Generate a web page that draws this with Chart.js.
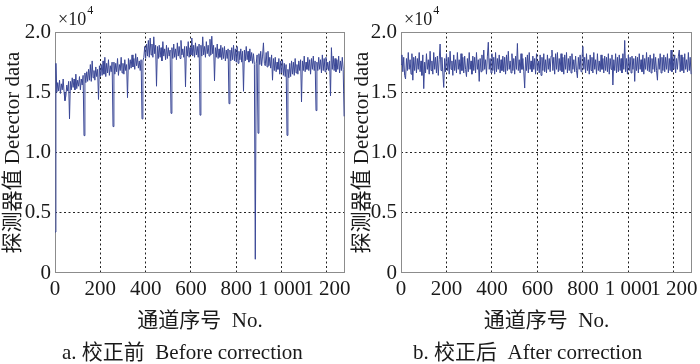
<!DOCTYPE html>
<html>
<head>
<meta charset="utf-8">
<script src="https://cdn.jsdelivr.net/npm/chart.js@4/dist/chart.umd.min.js"></script>
<style>
  body { margin: 0; width: 700px; height: 364px; background: #fff; position: relative; overflow: hidden; }
  .panel { position: absolute; top: 0; width: 350px; height: 364px; }
  .caption { position: absolute; top: 339px; font: 21px "Liberation Serif", "Noto Sans CJK SC", serif; color: #1a1a1a; white-space: pre; line-height: 26px; }
</style>
</head>
<body>
<div class="panel" style="left:0"><canvas id="chart-before" width="350" height="364"></canvas></div>
<div class="panel" style="left:350px"><canvas id="chart-after" width="350" height="364"></canvas></div>
<div class="caption" style="left:62px">a. 校正前  Before correction</div>
<div class="caption" style="left:413px">b. 校正后  After correction</div>
<script>
// =========================
// DATA (one value every 4 channels)
// =========================
const channelStep = 4;
const xTicks = [0, 200, 400, 600, 800, 1000, 1200];
const yTicks = [0, 5000, 10000, 15000, 20000];

const beforeCorrection = [
  3400, 17400, 15000, 15800, 15100, 16000, 14900, 15700, 15200, 16100, 15000, 14300, 14700, 15600, 15100, 15900,
  12790, 15900, 15200, 16200, 15400, 16100, 15200, 16500, 15300, 16000, 15500, 16300, 15200, 16100, 15600, 16400,
  11400, 16600, 15800, 16700, 15900, 16900, 16000, 17300, 15900, 17600, 16200, 16800, 16000, 17100, 16300, 16900,
  14400, 17200, 16300, 17300, 16400, 17600, 16500, 17900, 16300, 17400, 16600, 17700, 16400, 17200, 16700, 17500,
  12150, 17500, 16500, 17400, 16700, 17800, 16400, 17300, 16800, 17900, 16600, 17400, 16500, 17700, 16800, 17300,
  14550, 17800, 16900, 17700, 17000, 18100, 17100, 17800, 16900, 18200, 17200, 17900, 17000, 17600, 16800, 17700,
  12790, 17600, 17900, 18800, 17800, 19000, 18000, 19300, 17900, 19500, 18100, 19000, 17900, 19600, 18200, 18900,
  15500, 18800, 17800, 18900, 17900, 18700, 17600, 19200, 18000, 18600, 17700, 18900, 17800, 18700, 18000, 18500,
  13250, 18700, 17800, 19000, 17900, 18600, 17700, 19100, 18000, 18800, 17800, 19300, 18100, 18600, 17900, 18800,
  15450, 18800, 18000, 19200, 17900, 18700, 18100, 19500, 18000, 18900, 17900, 19100, 18100, 18800, 17900, 19000,
  13100, 18900, 18000, 19600, 18100, 18800, 17900, 19200, 18200, 18900, 18000, 19400, 18100, 19650, 18200, 18900,
  15950, 18700, 17900, 19000, 17800, 18600, 17900, 18900, 17700, 18700, 17800, 18800, 17600, 18500, 17800, 18600,
  14050, 18500, 17600, 18700, 17700, 18900, 17600, 18600, 17500, 18800, 17400, 18400, 17700, 18600, 17500, 18400,
  15080, 18500, 17600, 18800, 17700, 18400, 17500, 18600, 17600, 18300, 17400, 18200, 17300, 1140, 17400, 18100,
  11600, 18200, 17300, 18400, 17200, 18000, 19100, 17400, 17200, 18300, 17100, 18400, 17200, 17900, 17000, 18100,
  16000, 17800, 16800, 17900, 16700, 17500, 16900, 17800, 16500, 17600, 16600, 17700, 16400, 17400, 16300, 17300,
  11420, 16900, 16200, 17400, 16300, 17600, 16500, 17500, 16400, 17800, 16600, 17300, 16500, 17600, 16800, 17700,
  14190, 17600, 16800, 18000, 16700, 17500, 16900, 17900, 16800, 17700, 16500, 17800, 16900, 18000, 16800, 17600,
  13480, 17500, 16800, 17900, 16900, 17700, 16600, 18100, 16800, 17800, 16700, 17900, 16900, 17500, 16800, 17600,
  14700, 18700, 16900, 18000, 16800, 17800, 16700, 17700, 16900, 18000, 16600, 17600, 16800, 17900, 16900, 13000,
];

const afterCorrection = [
  17300, 18100, 16700, 17900, 16400, 16100, 17800, 16800, 18300, 16900, 17700, 16500, 18200, 16000, 17900, 16800,
  18000, 16600, 17800, 16900, 18300, 16700, 17600, 16400, 18100, 15300, 17500, 16600, 18200, 16900, 17700, 16500,
  18400, 16800, 17600, 16500, 18300, 16900, 17900, 16600, 18000, 16400, 17700, 19000, 16800, 17900, 16600, 15400,
  17800, 16700, 18200, 16800, 17900, 16500, 18400, 16900, 17600, 16400, 18100, 16800, 17700, 16600, 18300, 16900,
  17700, 16500, 18200, 16800, 17900, 16600, 18000, 16900, 16300, 17800, 16700, 18300, 16900, 17600, 16500, 18000,
  16800, 17900, 16600, 18300, 16900, 17700, 15900, 17800, 16700, 18100, 16800, 18500, 16900, 17700, 16500, 18000,
  19150, 16900, 17800, 16600, 18200, 16800, 17900, 16500, 18300, 16700, 17800, 16900, 18100, 16600, 17700, 16800,
  18000, 16700, 17900, 16500, 18100, 16800, 18400, 16900, 17600, 16600, 18200, 16800, 17800, 16500, 18000, 16900,
  19050, 16800, 17700, 16600, 18200, 16900, 17800, 16700, 15350, 17900, 16800, 18100, 16600, 18300, 16900, 17600,
  16700, 18000, 16900, 17800, 16500, 18200, 16800, 17600, 16600, 18100, 16400, 17900, 16800, 18200, 16700, 17700,
  16600, 18100, 16900, 17800, 16700, 18000, 18500, 16800, 17900, 16500, 18200, 16900, 18300, 16700, 17800, 16800,
  18200, 16700, 17900, 16500, 18100, 16900, 18300, 16600, 17800, 16800, 18000, 16600, 18200, 16900, 17700, 16700,
  18000, 16800, 16200, 17900, 16900, 18100, 16700, 17800, 18800, 16900, 17900, 16600, 18200, 16800, 17700, 16500,
  18100, 16800, 17900, 16600, 18300, 16900, 17700, 16500, 18200, 16800, 17600, 16700, 18100, 16900, 17800, 16600,
  18000, 16800, 17900, 16700, 18200, 16500, 17800, 16900, 18100, 15600, 17700, 16800, 18200, 16600, 17900, 16700,
  18100, 16800, 17800, 16600, 18200, 16900, 19300, 16700, 17800, 16500, 18100, 16800, 17900, 16600, 18000, 16900,
  17800, 15900, 18000, 16800, 17900, 16600, 18200, 16900, 17700, 16700, 18100, 16500, 17800, 16900, 18300, 16800,
  17900, 16700, 18100, 16600, 17800, 16900, 18200, 16700, 17900, 16800, 16000, 17800, 16900, 18200, 16600, 17900,
  16800, 18100, 16700, 17900, 16900, 18200, 16600, 17800, 16800, 18500, 16700, 17900, 16900, 18100, 16600, 17800,
  16900, 18000, 18500, 16700, 18100, 16800, 17900, 16600, 18200, 16900, 17700, 16700, 18300, 16800, 17900, 16500,
];

// =========================
// STYLE
// =========================
const FONT = '"Liberation Serif", "Noto Sans CJK SC", serif';
const TEXT = "#1a1a1a";
const LINE = "#3a4796";

// frame around the plot + "x10^4" multiplier
const framePlugin = {
  id: "frame",
  beforeDatasetsDraw(chart) {
    const { ctx, chartArea: a } = chart;
    ctx.save();
    ctx.strokeStyle = "#8c8c8c";
    ctx.lineWidth = 1;
    ctx.strokeRect(a.left + 0.5, a.top + 0.5, a.right - a.left - 1, a.bottom - a.top - 1);
    ctx.restore();
  },
  afterDraw(chart) {
    const { ctx, chartArea: a } = chart;
    ctx.save();
    ctx.fillStyle = TEXT;
    ctx.textBaseline = "alphabetic";
    ctx.font = "18px " + FONT;
    ctx.fillText("\u00d710", a.left + 3, 25);
    const w = ctx.measureText("\u00d710").width;
    ctx.font = "12px " + FONT;
    ctx.fillText("4", a.left + 3 + w + 1, 14);
    ctx.restore();
  },
};

function toPoints(values) {
  return values.map((v, i) => ({ x: i * channelStep, y: v }));
}

function formatChannel(v) {
  return String(v).replace(/\B(?=(\d{3})+(?!\d))/g, " ");
}

function makeChart(canvasId, values, yWidth, padRight, titlePad) {
  const ctx = document.getElementById(canvasId).getContext("2d");
  return new Chart(ctx, {
    type: "line",
    data: {
      datasets: [
        {
          data: toPoints(values),
          borderColor: LINE,
          borderWidth: 1,
          pointRadius: 0,
          tension: 0,
        },
      ],
    },
    options: {
      responsive: false,
      animation: false,
      layout: { padding: { top: 32, right: padRight, bottom: 30, left: 0 } },
      plugins: { legend: { display: false }, tooltip: { enabled: false } },
      scales: {
        x: {
          type: "linear",
          min: 0,
          max: 1280,
          afterBuildTicks: (s) => { s.ticks = xTicks.map((v) => ({ value: v })); },
          afterFit: (s) => { s.height = 61; s.paddingLeft = 0; s.paddingRight = 0; },
          ticks: {
            autoSkip: false,
            maxRotation: 0,
            padding: 4,
            color: TEXT,
            font: { family: FONT, size: 21 },
            callback: (v) => formatChannel(v),
          },
          grid: {
            drawTicks: false,
            color: (c) => (c.tick && (c.tick.value === 0) ? "rgba(0,0,0,0)" : "#222"),
          },
          border: { display: false, dash: [2, 2.5] },
          title: {
            display: true,
            text: "通道序号  No.",
            color: TEXT,
            font: { family: FONT, size: 21 },
            padding: 0,
          },
        },
        y: {
          min: 0,
          max: 20000,
          afterBuildTicks: (s) => { s.ticks = yTicks.map((v) => ({ value: v })); },
          afterFit: (s) => { s.width = yWidth; },
          ticks: {
            padding: 4,
            color: TEXT,
            font: { family: FONT, size: 21 },
            callback: (v) => (v === 0 ? "0" : (v / 10000).toFixed(1)),
          },
          grid: {
            drawTicks: false,
            color: (c) => (c.tick && (c.tick.value === 0 || c.tick.value === 20000) ? "rgba(0,0,0,0)" : "#222"),
          },
          border: { display: false, dash: [2, 2.5] },
          title: {
            display: true,
            text: "探测器值 Detector data",
            color: TEXT,
            font: { family: FONT, size: 21 },
            padding: { top: titlePad, bottom: 0 },
          },
        },
      },
    },
    plugins: [framePlugin],
  });
}

const beforeChart = makeChart("chart-before", beforeCorrection, 55, 5, 1);
const afterChart = makeChart("chart-after", afterCorrection, 51, 8, 0);
</script>
</body>
</html>
